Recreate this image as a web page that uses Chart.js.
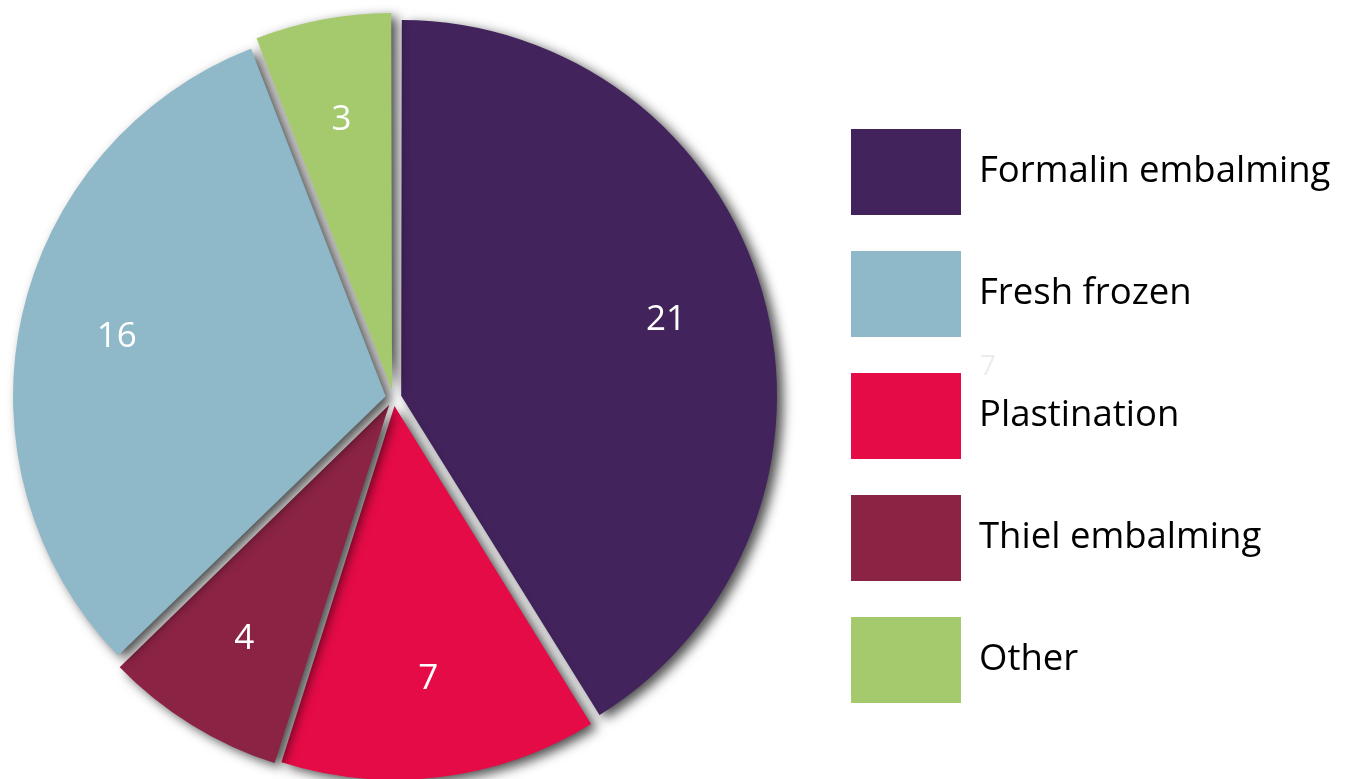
<!DOCTYPE html>
<html>
<head>
<meta charset="utf-8">
<script src="https://cdn.jsdelivr.net/npm/chart.js@4.4.1/dist/chart.umd.min.js"></script>
<style>
  html, body { margin: 0; padding: 0; background: #ffffff; }
  #wrap { position: relative; width: 1347px; height: 779px; overflow: hidden; }
</style>
</head>
<body>
<div id="wrap"><canvas id="methodsChart" width="1347" height="779"></canvas></div>
<script>
// slices go clockwise from 12 o'clock
const methodLabels = ['Formalin embalming', 'Plastination', 'Thiel embalming', 'Fresh frozen', 'Other'];
const methodCounts = [21, 7, 4, 16, 3];
const methodColors = ['#42235c', '#e50b47', '#8b2344', '#8fb8c8', '#a5ca6d'];
// legend lists them in a different order
const legendOrder = ['Formalin embalming', 'Fresh frozen', 'Plastination', 'Thiel embalming', 'Other'];

const FONT = '"Open Sans", "Noto Sans", sans-serif';

// soft drop shadow under the slices
const sliceShadow = {
    id: 'sliceShadow',
    beforeDatasetsDraw(chart) {
        const ctx = chart.ctx;
        ctx.save();
        ctx.shadowColor = 'rgba(0, 0, 0, 0.7)';
        ctx.shadowBlur = 12;
        ctx.shadowOffsetX = 6;
        ctx.shadowOffsetY = 4;
    },
    afterDatasetsDraw(chart) {
        chart.ctx.restore();
    }
};

// white count inside each slice
const sliceValues = {
    id: 'sliceValues',
    afterDatasetsDraw(chart) {
        const ctx = chart.ctx;
        const meta = chart.getDatasetMeta(0);
        ctx.save();
        ctx.fillStyle = '#ffffff';
        ctx.font = '35px ' + FONT;
        ctx.textAlign = 'center';
        ctx.textBaseline = 'middle';
        meta.data.forEach((arc, i) => {
            const p = arc.getProps(['x', 'y', 'startAngle', 'endAngle', 'outerRadius'], true);
            const mid = (p.startAngle + p.endAngle) / 2;
            const shift = 8;   // matches the slice offset (offset / 4)
            const r = p.outerRadius * 0.74 + shift;
            ctx.fillText(String(methodCounts[i]), p.x + Math.cos(mid) * r, p.y + Math.sin(mid) * r);
        });
        ctx.restore();
    }
};

// big colour boxes on the right
const boxLegend = {
    id: 'boxLegend',
    afterDraw(chart) {
        const ctx = chart.ctx;
        ctx.save();
        ctx.font = '36.5px ' + FONT;
        ctx.textBaseline = 'middle';
        legendOrder.forEach((name, i) => {
            const idx = methodLabels.indexOf(name);
            const top = 129 + i * 122;
            ctx.fillStyle = methodColors[idx];
            ctx.fillRect(851, top, 110, 86);
            ctx.fillStyle = '#000000';
            ctx.fillText(name, 979, top + 43);
        });
        // faint stray digit left over in the artwork
        ctx.fillStyle = '#ececec';
        ctx.font = '28px ' + FONT;
        ctx.fillText('7', 980, 367);
        ctx.restore();
    }
};

new Chart(document.getElementById('methodsChart'), {
    type: 'pie',
    data: {
        labels: methodLabels,
        datasets: [{
            data: methodCounts,
            backgroundColor: methodColors,
            borderWidth: 0,
            offset: 32,
            hoverOffset: 0,
            radius: 372,
            clip: false
        }]
    },
    options: {
        responsive: false,
        animation: false,
        layout: { padding: { left: 0, right: 560, top: 17, bottom: 0 } },
        plugins: {
            legend: { display: false },
            tooltip: { enabled: false }
        }
    },
    plugins: [sliceShadow, sliceValues, boxLegend]
});
</script>
</body>
</html>
